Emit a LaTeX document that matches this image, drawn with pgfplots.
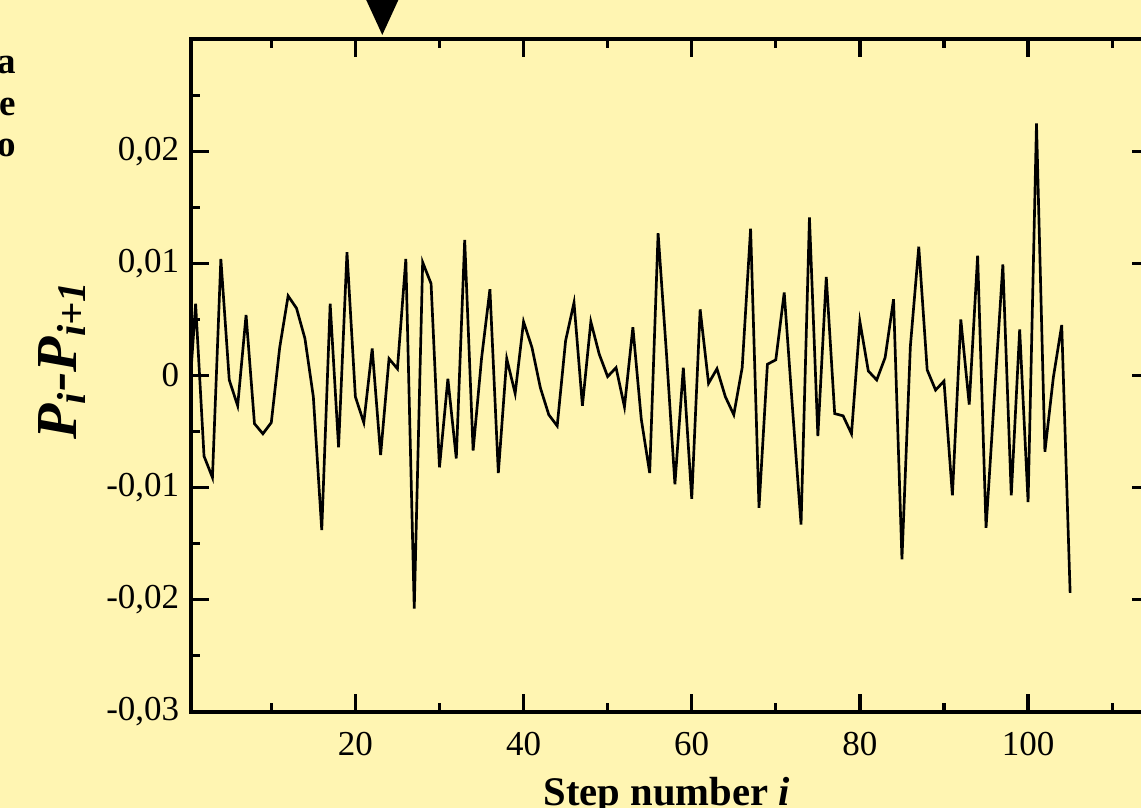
\documentclass[border=0pt]{standalone}
\usepackage{fontspec}
\setmainfont{Liberation Serif}
\usepackage{pgfplots}
\pgfplotsset{compat=1.18}

\definecolor{bgyellow}{RGB}{255,245,178}

% step-to-step differences
\pgfplotstableread{
i d
0 -0.0045
1 0.0064
2 -0.0072
3 -0.0091
4 0.0104
5 -0.0004
6 -0.0027
7 0.0054
8 -0.0043
9 -0.0052
10 -0.0042
11 0.0025
12 0.0071
13 0.0060
14 0.0033
15 -0.0019
16 -0.0138
17 0.0064
18 -0.0064
19 0.0110
20 -0.0019
21 -0.0042
22 0.0024
23 -0.0071
24 0.0015
25 0.0006
26 0.0104
27 -0.0208
28 0.0101
29 0.0082
30 -0.0082
31 -0.0003
32 -0.0074
33 0.0121
34 -0.0067
35 0.0015
36 0.0077
37 -0.0087
38 0.0015
39 -0.0016
40 0.0048
41 0.0025
42 -0.0011
43 -0.0035
44 -0.0045
45 0.0031
46 0.0065
47 -0.0027
48 0.0048
49 0.0019
50 -0.0001
51 0.0007
52 -0.0028
53 0.0043
54 -0.0039
55 -0.0087
56 0.0127
57 0.0019
58 -0.0097
59 0.0007
60 -0.0110
61 0.0059
62 -0.0007
63 0.0006
64 -0.0019
65 -0.0035
66 0.0007
67 0.0131
68 -0.0118
69 0.0010
70 0.0014
71 0.0074
72 -0.0031
73 -0.0133
74 0.0141
75 -0.0054
76 0.0088
77 -0.0034
78 -0.0036
79 -0.0052
80 0.0048
81 0.0004
82 -0.0004
83 0.0016
84 0.0068
85 -0.0164
86 0.0026
87 0.0115
88 0.0005
89 -0.0013
90 -0.0005
91 -0.0107
92 0.0050
93 -0.0026
94 0.0107
95 -0.0136
96 -0.0018
97 0.0099
98 -0.0107
99 0.0041
100 -0.0113
101 0.0225
102 -0.0068
103 -0.0002
104 0.0045
105 -0.0194
}\steps

\begin{document}
\begin{tikzpicture}
\fill[bgyellow] (-57.3pt,-28.89pt) rectangle (285pt,213.51pt);

\begin{axis}[
    at={(0pt,0pt)}, anchor=south west,
    width=287.7pt, height=201.72pt,
    scale only axis,
    xmin=0.45, xmax=114.5,
    ymin=-0.03, ymax=0.03,
    xtick={20,40,60,80,100},
    minor xtick={10,30,50,70,90,110},
    ytick={-0.03,-0.02,-0.01,0,0.01,0.02},
    yticklabels={{-0,03},{-0,02},{-0,01},{0},{0,01},{0,02}},
    minor ytick={-0.025,-0.015,-0.005,0.005,0.015,0.025},
    scaled y ticks=false,
    tick align=inside,
    major tick length=5.4pt,
    minor tick length=2.7pt,
    every tick/.style={black, line width=1pt},
    axis line style={line width=1.2pt},
    tick label style={font=\fontsize{10.5}{12}\selectfont},
    /pgf/number format/assume math mode=true,
    xticklabel style={yshift=-2.5pt},
    xlabel={\textbf{Step number \textit{i}}},
    xlabel style={at={(axis description cs:0.496,0)}, anchor=base, yshift=-28pt,
        font=\fontsize{12.2}{14}\selectfont},
    ylabel={\bfseries\itshape P\textsubscript{i}-P\textsubscript{i+1}},
    ylabel style={at={(axis description cs:-0.1345,0.523)}, anchor=center,
        font=\fontsize{17.4}{20}\selectfont},
]
\addplot[black, line width=0.8pt, sharp plot] table[x=i, y=d] {\steps};
\coordinate (mk) at (axis cs:23.2,0.03);
\end{axis}

\fill[black] ([yshift=1.3pt]mk) -- ++(-6.2pt,13.5pt) -- ++(12.4pt,0pt) -- cycle;

\begin{scope}[every node/.style={anchor=base east, inner sep=0pt,
    font=\fontsize{11.1}{13}\selectfont\bfseries}]
\node at (-52.4pt,191.4pt) {a};
\node at (-52.4pt,178.9pt) {e};
\node at (-52.4pt,166.7pt) {o};
\end{scope}

\pgfresetboundingbox
\path[use as bounding box] (-57.3pt,-28.89pt) rectangle (285pt,213.51pt);
\end{tikzpicture}
\end{document}
